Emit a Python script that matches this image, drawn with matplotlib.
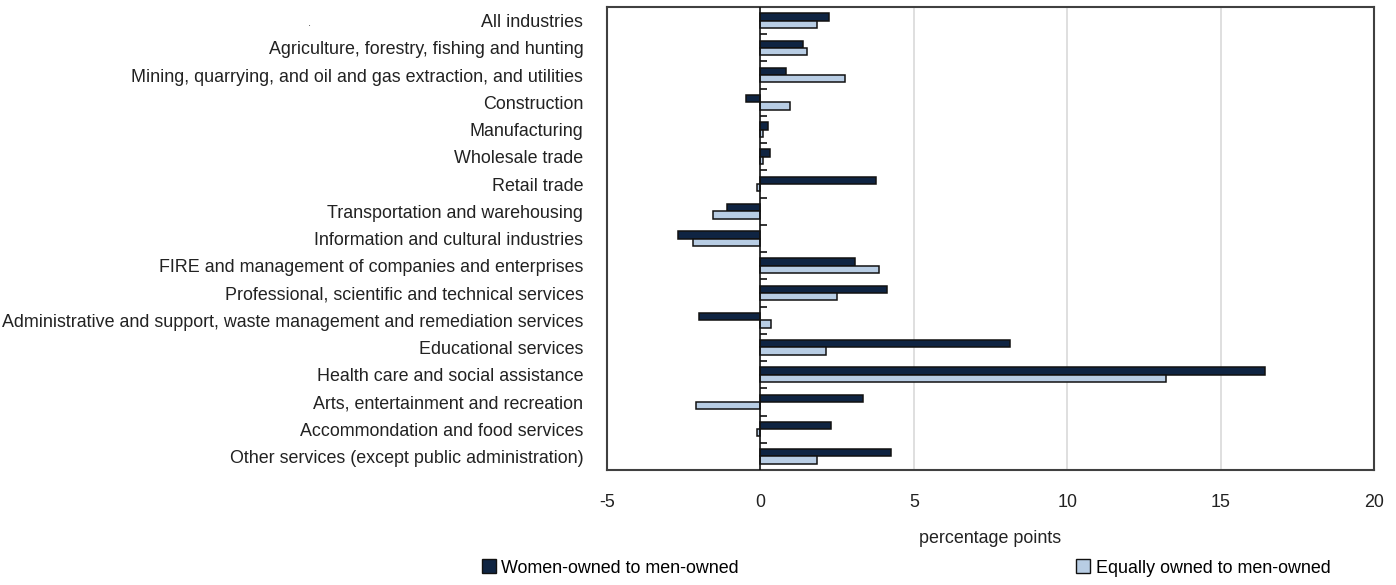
import matplotlib
matplotlib.use('Agg')
import matplotlib.pyplot as plt
from matplotlib.patches import Patch
import numpy as np

plt.rcParams['font.family'] = ['Liberation Sans Narrow', 'Liberation Sans', 'DejaVu Sans']

industries = [
    'All industries',
    'Agriculture, forestry, fishing and hunting',
    'Mining, quarrying, and oil and gas extraction, and utilities',
    'Construction',
    'Manufacturing',
    'Wholesale trade',
    'Retail trade',
    'Transportation and warehousing',
    'Information and cultural industries',
    'FIRE and management of companies and enterprises',
    'Professional, scientific and technical services',
    'Administrative and support, waste management and remediation services',
    'Educational services',
    'Health care and social assistance',
    'Arts, entertainment and recreation',
    'Accommondation and food services',
    'Other services (except public administration)',
]
women_vs_men = [2.25, 1.4, 0.82, -0.46, 0.26, 0.33, 3.78, -1.1, -2.67, 3.1, 4.14,
                -2.0, 8.15, 16.46, 3.36, 2.3, 4.27]
equal_vs_men = [1.83, 1.53, 2.77, 0.98, 0.1, 0.07, -0.1, -1.56, -2.18, 3.88, 2.5,
                0.36, 2.15, 13.23, -2.09, -0.12, 1.83]

dark = '#0f2442'
light = '#b8cde4'
edge = '#111111'
fs = 12.9

fig = plt.figure(figsize=(13.96, 5.85), dpi=100)
ax = fig.add_axes([0.4348, 0.1966, 0.5494, 0.7914])

y = np.arange(len(industries))
h = 0.27
ax.barh(y - h / 2, women_vs_men, height=h, color=dark, edgecolor=edge, linewidth=1.1,
        zorder=3)
ax.barh(y + h / 2, equal_vs_men, height=h, color=light, edgecolor=edge, linewidth=1.1,
        zorder=3)

ax.set_xlim(-5, 20)
ax.set_ylim(len(industries) - 0.5, -0.5)
ax.set_xticks([-5, 0, 5, 10, 15, 20])
ax.set_xticklabels(['-5', '0', '5', '10', '15', '20'])
ax.set_yticks(y)
ax.set_yticklabels(industries)
ax.tick_params(axis='both', length=0, labelsize=fs, colors='#222222')
ax.tick_params(axis='x', pad=17)
ax.tick_params(axis='y', pad=17)

for v in [5, 10, 15]:
    ax.axvline(v, color='#d9d9d9', linewidth=1.2, zorder=1)
ax.axvline(0, color='#111111', linewidth=1.2, zorder=4)
bounds = np.arange(len(industries) - 1) + 0.5
ax.hlines(bounds, 0, 0.2, color='#111111', linewidth=1.2, zorder=4)

for s in ax.spines.values():
    s.set_color('#404040')
    s.set_linewidth(1.5)

ax.set_xlabel('percentage points', fontsize=fs, color='#222222', labelpad=14)

fig.text(0.2205, 0.955, '.', fontsize=8, color='#444444')

handles = [Patch(facecolor=dark, edgecolor=edge, label='Women-owned to men-owned'),
           Patch(facecolor=light, edgecolor=edge, label='Equally owned to men-owned')]
fig.legend(handles=handles, loc='center', bbox_to_anchor=(0.649, 0.029), ncol=2,
           frameon=False, fontsize=fs, handlelength=0.8, handleheight=0.8,
           handletextpad=0.3, columnspacing=18.8)

fig.savefig('out.png', dpi=100)
